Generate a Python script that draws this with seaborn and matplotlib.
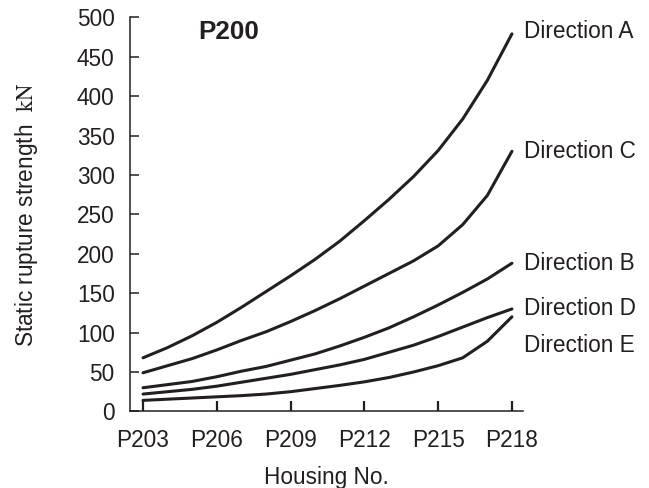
import numpy as np
import pandas as pd
import matplotlib
matplotlib.use("Agg")
import matplotlib.pyplot as plt
import seaborn as sns
from matplotlib.ticker import FixedLocator

# ---- data ----
housings = ["P203", "P204", "P205", "P206", "P207", "P208", "P209", "P210",
            "P211", "P212", "P213", "P214", "P215", "P216", "P217", "P218"]
tick_labels = ["P203", "P206", "P209", "P212", "P215", "P218"]
series_names = ["Direction A", "Direction C", "Direction B", "Direction D", "Direction E"]

dir_a = [68, 81, 96, 113, 132, 152, 172, 193, 216, 242, 269, 298, 331, 371, 420, 479]
dir_c = [49, 58, 67, 78, 90, 101, 114, 128, 143, 159, 175, 191, 210, 237, 274, 330]
dir_b = [30, 34, 38, 44, 51, 57, 65, 73, 83, 94, 106, 120, 135, 151, 168, 188]
dir_d = [22, 25, 28, 32, 37, 42, 47, 53, 59, 66, 75, 84, 95, 107, 119, 130]
dir_e = [14, 15.5, 17, 18.5, 20, 22, 25, 29, 33, 37.5, 43, 50, 58, 68, 89, 120]
y_ticks = [0, 50, 100, 150, 200, 250, 300, 350, 400, 450, 500]

ink = "#231f20"

sns.set_theme(style="white")
plt.rcParams["font.family"] = ["Liberation Sans", "DejaVu Sans"]
plt.rcParams["mathtext.fontset"] = "stix"

all_series = [dir_a, dir_c, dir_b, dir_d, dir_e]
rows = []
for name, vals in zip(series_names, all_series):
    for i, (h, v) in enumerate(zip(housings, vals)):
        rows.append({"pos": i, "housing": h, "value": v, "series": name})
df = pd.DataFrame(rows)

W, H = 649, 488
fig = plt.figure(figsize=(W / 100, H / 100), dpi=100)
ax_left, ax_right, ax_top, ax_bottom = 130, 523, 17.3, 411.4
ax = fig.add_axes([ax_left / W, (H - ax_bottom) / H,
                   (ax_right - ax_left) / W, (ax_bottom - ax_top) / H])

sns.lineplot(data=df, x="pos", y="value", hue="series",
             palette=[ink] * len(series_names), legend=False,
             linewidth=2.2, ax=ax, sort=False)

ax.set_xlim(-0.53, len(housings) - 1 + 0.45)
ax.set_ylim(0, 500)

for s in ["top", "right"]:
    ax.spines[s].set_visible(False)
for s in ["left", "bottom"]:
    ax.spines[s].set_color(ink)
    ax.spines[s].set_linewidth(1.1)

fs = 16.3
major_pos = [housings.index(t) for t in tick_labels]
ax.xaxis.set_major_locator(FixedLocator(major_pos))
ax.set_xticklabels(tick_labels)
ax.xaxis.set_minor_locator(FixedLocator(list(range(len(housings)))))
ax.set_yticks(y_ticks)
ax.set_yticklabels([str(v) for v in y_ticks])

ax.tick_params(axis="x", which="major", direction="in", length=7, width=1.6,
               color=ink, labelsize=fs, labelcolor=ink, pad=12.5)
ax.tick_params(axis="x", which="minor", direction="in", length=6.2, width=1.0,
               color=ink)
ax.tick_params(axis="y", which="major", direction="in", length=6.5, width=1.1,
               color=ink, labelsize=fs, labelcolor=ink, pad=11, left=True)
ax.tick_params(axis="x", bottom=True)

ax.set_xlabel("Housing No.", fontsize=fs, color=ink, labelpad=10)
ax.set_ylabel(r"Static rupture strength  $\mathrm{kN}$", fontsize=fs, color=ink)
ax.yaxis.set_label_coords(-0.228, 0.5)

ax.text(0.252, 0.963, "P200", transform=ax.transAxes, ha="center", va="center",
        fontsize=18.8, fontweight="bold", color=ink)

offsets = {"Direction A": 2, "Direction C": 0, "Direction B": 0,
           "Direction D": 0, "Direction E": -29}
for name, vals in zip(series_names, all_series):
    ax.annotate(name, xy=(len(housings) - 1, vals[-1]), xycoords="data",
                xytext=(9, offsets[name] * 0.72), textcoords="offset points",
                ha="left", va="center", fontsize=fs, color=ink,
                annotation_clip=False)

fig.savefig("out.png", dpi=100)
